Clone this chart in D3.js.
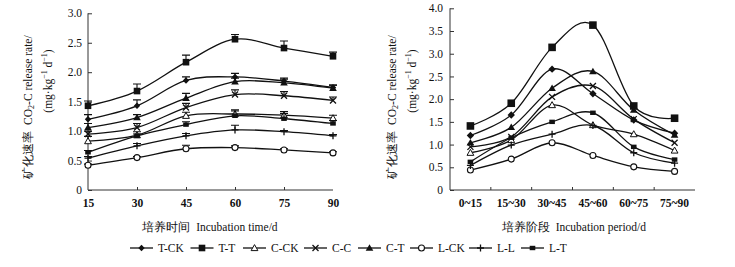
<!DOCTYPE html>
<html><head><meta charset="utf-8">
<script src="https://cdn.jsdelivr.net/npm/d3@7"></script>
<style>body{margin:0;background:#fff}svg{display:block}text{font-family:"Liberation Serif","Times New Roman",serif;fill:#111}</style>
</head><body><svg id="c" width="735" height="267"></svg>
<script>
// ---- data ----
const seriesNames = ["T-CK","T-T","C-CK","C-C","C-T","L-CK","L-L","L-T"];
const days = [15,30,45,60,75,90];
const periods = ["0~15","15~30","30~45","45~60","60~75","75~90"];
const leftTicks = [0,0.5,1.0,1.5,2.0,2.5,3.0];
const rightTicks = [0,0.5,1.0,1.5,2.0,2.5,3.0,3.5,4.0];
// left chart: rate by incubation time
const L_TCK = [1.20,1.43,1.86,1.92,1.85,1.74];
const L_TT  = [1.43,1.68,2.17,2.56,2.41,2.27];
const L_CCK = [0.83,0.93,1.26,1.29,1.27,1.22];
const L_CC  = [0.95,1.06,1.40,1.62,1.60,1.52];
const L_CT  = [1.06,1.23,1.56,1.84,1.82,1.73];
const L_LCK = [0.42,0.55,0.70,0.72,0.68,0.63];
const L_LL  = [0.54,0.75,0.92,1.02,0.99,0.92];
const L_LT  = [0.64,0.92,1.11,1.26,1.21,1.13];
// left chart error bars (upper)
const E_TCK = [0.08,0.10,0.06,0.06,0.05,0.04];
const E_TT  = [0.08,0.12,0.12,0.08,0.12,0.07];
const E_CCK = [0.08,0.06,0.06,0.07,0.06,0.05];
const E_CC  = [0.05,0.07,0.07,0.08,0.07,0.06];
const E_CT  = [0.07,0.05,0.08,0.06,0.06,0.05];
const E_LCK = [0.02,0.02,0.06,0.03,0.02,0.02];
const E_LL  = [0.03,0.04,0.04,0.08,0.02,0.02];
const E_LT  = [0.03,0.03,0.05,0.08,0.09,0.05];
// right chart: rate per incubation period
const R_TCK = [1.20,1.65,2.66,2.12,1.54,1.25];
const R_TT  = [1.41,1.91,3.14,3.63,1.85,1.58];
const R_CCK = [0.82,1.10,1.87,1.43,1.23,0.87];
const R_CC  = [0.95,1.17,2.05,2.29,1.56,1.04];
const R_CT  = [1.04,1.38,2.24,2.61,1.76,1.21];
const R_LCK = [0.44,0.68,1.04,0.76,0.51,0.41];
const R_LL  = [0.54,0.99,1.23,1.42,0.82,0.59];
const R_LT  = [0.62,1.15,1.50,1.70,0.95,0.67];

const leftVals = [L_TCK,L_TT,L_CCK,L_CC,L_CT,L_LCK,L_LL,L_LT];
const leftErr  = [E_TCK,E_TT,E_CCK,E_CC,E_CT,E_LCK,E_LL,E_LT];
const rightVals = [R_TCK,R_TT,R_CCK,R_CC,R_CT,R_LCK,R_LL,R_LT];

const svg = d3.select("#c");
const ink = "#111";

function marker(g, name, x, y, big){
  const s = big ? 1.15 : 1;
  switch(name){
    case "T-CK": g.append("path").attr("d",`M${x},${y-3.2*s}L${x+3.2*s},${y}L${x},${y+3.2*s}L${x-3.2*s},${y}Z`).attr("fill",ink); break;
    case "T-T": g.append("rect").attr("x",x-3.3*s).attr("y",y-3.3*s).attr("width",6.6*s).attr("height",6.6*s).attr("fill",ink); break;
    case "C-CK": g.append("path").attr("d",`M${x},${y-3.4}L${x+3.4},${y+2.6}L${x-3.4},${y+2.6}Z`).attr("fill","#fff").attr("stroke",ink).attr("stroke-width",1); break;
    case "C-C": g.append("path").attr("d",`M${x-3},${y-3}L${x+3},${y+3}M${x+3},${y-3}L${x-3},${y+3}`).attr("stroke",ink).attr("stroke-width",1.3); break;
    case "C-T": g.append("path").attr("d",`M${x},${y-3.8}L${x+3.8},${y+2.8}L${x-3.8},${y+2.8}Z`).attr("fill",ink); break;
    case "L-CK": g.append("circle").attr("cx",x).attr("cy",y).attr("r",3).attr("fill","#fff").attr("stroke",ink).attr("stroke-width",1.1); break;
    case "L-L": g.append("path").attr("d",`M${x},${y-3.5}L${x},${y+3.5}M${x-3.5},${y}L${x+3.5},${y}`).attr("stroke",ink).attr("stroke-width",1.3); break;
    case "L-T": g.append("rect").attr("x",x-2.8).attr("y",y-2.2).attr("width",5.6).attr("height",4.4).attr("fill",ink); break;
  }
}

function yTitle(x1, x2){
  const cy = 107;
  svg.append("text").attr("transform",`translate(${x1},${cy}) rotate(-90)`)
    .attr("text-anchor","middle").attr("dominant-baseline","central").attr("font-size",11.5)
    .html('矿化速率&#160;&#160;CO<tspan font-size="8" dy="3">2</tspan><tspan dy="-3">-C release rate/</tspan>');
  svg.append("text").attr("transform",`translate(${x2},81) rotate(-90)`)
    .attr("text-anchor","middle").attr("dominant-baseline","central").attr("font-size",11.5)
    .html('(mg·kg<tspan font-size="8" dy="-4">−1</tspan><tspan dy="4"> d</tspan><tspan font-size="8" dy="-4">−1</tspan><tspan dy="4">)</tspan>');
}

const line = d3.line().curve(d3.curveCardinal.tension(0));

// ---------- left chart ----------
{
  const x = d3.scaleLinear().domain([15,90]).range([88,333]);
  const y = d3.scaleLinear().domain([0,3]).range([190,13.3]);
  const g = svg.append("g");
  const ya = d3.axisLeft(y).tickValues(leftTicks).tickSize(-4).tickPadding(6)
    .tickFormat(d => d===0 ? "0" : d3.format(".1f")(d));
  const gy = g.append("g").attr("transform","translate(88,0)").call(ya);
  const xa = d3.axisBottom(x).tickValues(days).tickSize(-3).tickPadding(9);
  const gx = g.append("g").attr("transform","translate(0,190)").call(xa);
  [gy,gx].forEach(a=>{a.select(".domain").attr("stroke","#333");a.selectAll("line").attr("stroke","#333");
    a.selectAll("text").attr("font-size",11.5).attr("font-family","Liberation Serif").attr("fill",ink);});
  gx.selectAll(".tick line").filter(d=>d===15||d===90).remove();
  gy.select(".domain").attr("d","M0,190V13.3");
  gx.select(".domain").attr("d","M88,0H333");
  gx.selectAll("text").attr("font-weight","bold");
  seriesNames.forEach((n,i)=>{
    const vals = leftVals[i], errs = leftErr[i];
    g.append("path").attr("d",line(days.map((d,j)=>[x(d),y(vals[j])]))).attr("fill","none").attr("stroke",ink).attr("stroke-width",1.3);
    days.forEach((d,j)=>{
      const px=x(d), py=y(vals[j]), pt=y(vals[j]+errs[j]);
      g.append("path").attr("d",`M${px},${py}V${pt}M${px-4},${pt}H${px+4}`).attr("stroke",ink).attr("stroke-width",1.1).attr("fill","none");
      marker(g,n,px,py,false);
    });
  });
  yTitle(28,48);
  svg.append("text").attr("x",210).attr("y",231).attr("text-anchor","middle").attr("font-size",11.5)
    .html('培养时间&#160;&#160;Incubation time/d');
}

// ---------- right chart ----------
{
  const xb = d3.scaleBand().domain(periods).range([450,695]);
  const y = d3.scaleLinear().domain([0,4]).range([190,8.3]);
  const g = svg.append("g");
  const ya = d3.axisLeft(y).tickValues(rightTicks).tickSize(-4).tickPadding(7)
    .tickFormat(d => d===0 ? "0" : d3.format(".1f")(d));
  const gy = g.append("g").attr("transform","translate(450,0)").call(ya);
  const xa = d3.axisBottom(xb).tickSize(0).tickPadding(9);
  const gx = g.append("g").attr("transform","translate(0,190)").call(xa);
  [gy,gx].forEach(a=>{a.select(".domain").attr("stroke","#333");a.selectAll("line").attr("stroke","#333");
    a.selectAll("text").attr("font-size",11.5).attr("font-family","Liberation Serif").attr("fill",ink);});
  gy.select(".domain").attr("d","M0,190V8.3");
  gx.select(".domain").attr("d","M450,0H695");
  gx.selectAll("text").attr("font-weight","bold");
  periods.slice(1).forEach(p=>{
    g.append("line").attr("x1",xb(p)).attr("x2",xb(p)).attr("y1",190).attr("y2",187).attr("stroke","#333");
  });
  const cx = p => xb(p)+xb.bandwidth()/2;
  seriesNames.forEach((n,i)=>{
    const vals = rightVals[i];
    g.append("path").attr("d",line(periods.map((p,j)=>[cx(p),y(vals[j])]))).attr("fill","none").attr("stroke",ink).attr("stroke-width",1.3);
    periods.forEach((p,j)=>marker(g,n,cx(p),y(vals[j]),true));
  });
  yTitle(392,412);
  svg.append("text").attr("x",574).attr("y",231).attr("text-anchor","middle").attr("font-size",11.5)
    .html('培养阶段&#160;&#160;Incubation period/d');
}

// ---------- legend ----------
{
  const lx = [130,190.5,243,304,358,410,469,521];
  const ly = 248;
  const lg = svg.append("g");
  seriesNames.forEach((n,i)=>{
    lg.append("line").attr("x1",lx[i]).attr("x2",lx[i]+23).attr("y1",ly).attr("y2",ly).attr("stroke",ink).attr("stroke-width",1.3);
    marker(lg,n,lx[i]+11.5,ly,false);
    lg.append("text").attr("x",lx[i]+28).attr("y",ly).attr("dominant-baseline","central").attr("font-size",11.5).text(n);
  });
}
</script></body></html>
